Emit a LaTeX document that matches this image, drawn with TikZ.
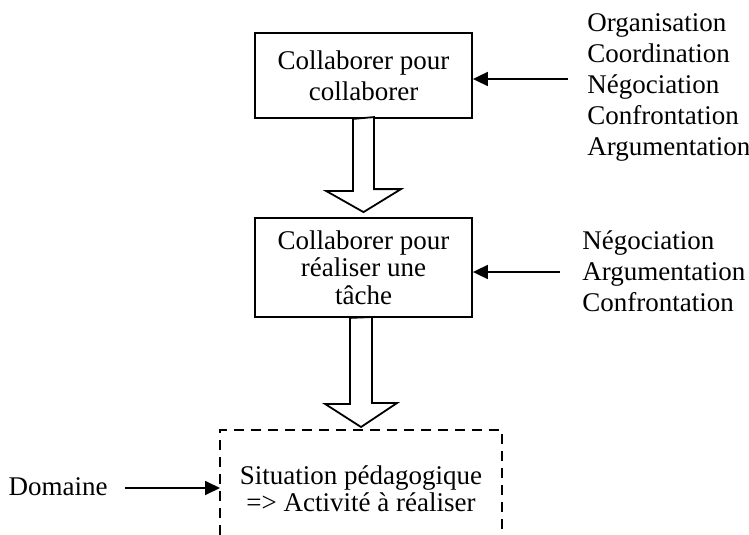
\documentclass[tikz,border=0pt]{standalone}
\usepackage{fontspec}
\setmainfont{Liberation Serif}
\usetikzlibrary{arrows.meta,positioning}
\begin{document}
\begin{tikzpicture}[line cap=butt,line join=miter,x=0.5pt,y=-0.5pt,
	every node/.style={font=\fontsize{13.5}{15.5}\selectfont},
	boite/.style={draw,line width=0.9pt,minimum width=108.5pt,align=center,inner sep=0pt},
	serre/.style={font=\fontsize{13.5}{13.75}\selectfont},
	liste/.style={align=left,inner sep=0pt,anchor=west},
	fleche/.style={line width=0.9pt,-{Triangle[length=7.5pt,width=7pt]}},
	creuse/.style={line width=0.9pt,fill=white},
	pointille/.style={line width=1.1pt,dash pattern=on 5pt off 3.5pt}]
	\useasboundingbox (0,0) rectangle (749,535);
	\node[boite,minimum height=42.5pt] (c1) at (363.5,75.5) {Collaborer pour\\collaborer};
	\node[boite,serre,minimum height=49.5pt] (c2) at (363.5,267.5) {Collaborer pour\\réaliser une\\tâche};
	\node[liste] (l1) at (587,87) {Organisation\\Coordination\\Négociation\\Confrontation\\Argumentation};
	\node[liste] (l2) at (582,271) {Négociation\\Argumentation\\Confrontation};
	\node[inner sep=0pt,anchor=east] (dom) at (108,487) {Domaine};
	\node[serre,align=center,inner sep=0pt] (sit) at (361,488.5) {Situation pédagogique\\=> Activité à réaliser};
	% cadre ouvert en bas
	\coordinate (hautS) at (361,430);
	\coordinate (gauche) at (220,488);
	\draw[pointille] (220,535) -- (220,430) -- (502,430) -- (502,535);
	% fleches creuses
	\draw[creuse] ([xshift=-5.25pt]c1.south) -- ++(0,72) -- ++(-27,0) -- ([yshift=2.5pt]c2.north) -- ++(37.5,-23) -- ++(-27,0) -- ++(0,-72) -- cycle;
	\draw[creuse] ([xshift=-6.75pt]c2.south) -- ++(0,86) -- ++(-25,0) -- ([yshift=1.5pt]hautS) -- ++(36,-24) -- ++(-25,0) -- ++(0,-86) -- cycle;
	% fleches pleines
	\coordinate (d1) at (568,79);
	\coordinate (d2) at (560,272);
	\draw[fleche] (d1) -- (d1 -| c1.east);
	\draw[fleche] (d2) -- (d2 -| c2.east);
	\draw[fleche] (gauche -| dom.east) ++(17,0) -- (gauche);
\end{tikzpicture}
\end{document}
